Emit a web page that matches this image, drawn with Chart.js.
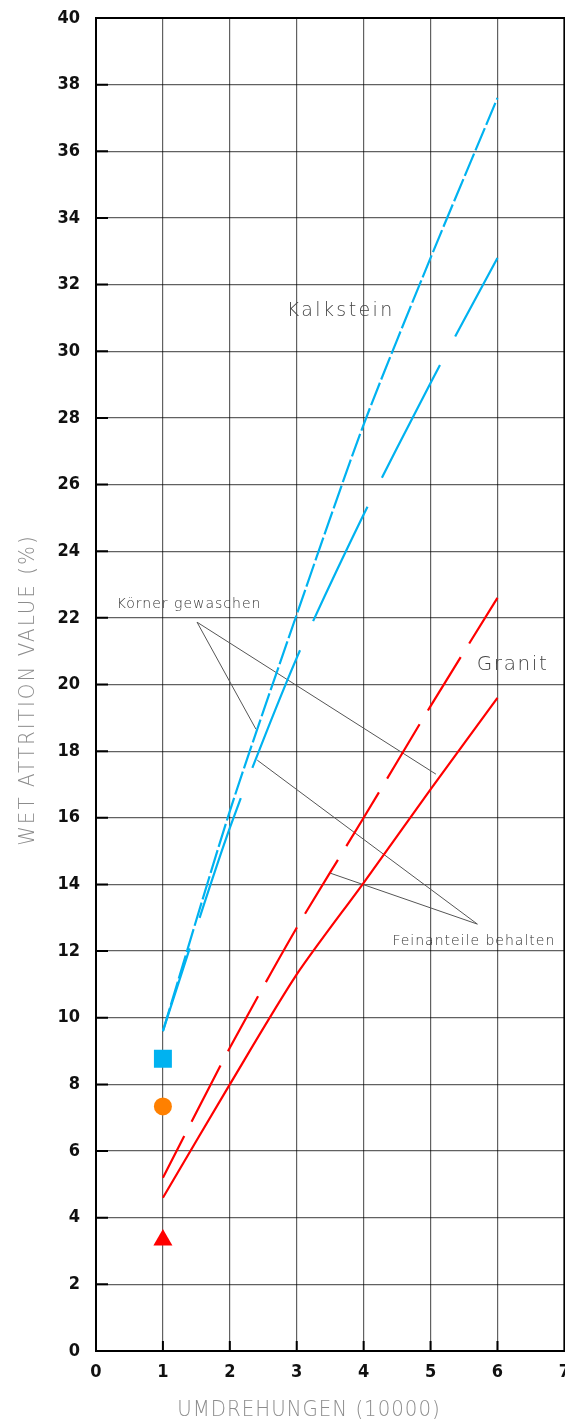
<!DOCTYPE html>
<html lang="de">
<head>
<meta charset="utf-8">
<title>Wet Attrition Value</title>
<script src="https://cdn.jsdelivr.net/npm/chart.js@4.4.1/dist/chart.umd.min.js"></script>
<style>
    html, body { margin: 0; padding: 0; background: #fff; overflow: hidden; }
    #wrap { position: relative; width: 581px; height: 1423px; }
</style>
</head>
<body>
<div id="wrap"><canvas id="attritionChart"></canvas></div>
<script>
// Umdrehungen (x 10000)
const umdrehungen = [1, 2, 3, 4, 5, 6];

// Kalkstein
const kalksteinGewaschen   = [9.6, 16.2, 22.1, 27.8, 32.8, 37.6];
const kalksteinFeinanteile = [9.6, 15.7, 20.8, 25.1, 29.05, 32.8];

// Granit
const granitGewaschen   = [4.6, 8.0, 11.3, 14.05, 16.85, 19.6];
const granitFeinanteile = [5.2, 9.1, 12.7, 16.0, 19.35, 22.6];

// Einzelwerte bei 10000 Umdrehungen (blau, orange, rot)
const einzelX = [1, 1, 1];
const einzelY = [8.77, 7.34, 3.33];

// Achsenteilung
const xTickWerte = [0, 1, 2, 3, 4, 5, 6, 7];
const yTickWerte = [0, 2, 4, 6, 8, 10, 12, 14, 16, 18, 20, 22, 24, 26, 28, 30, 32, 34, 36, 38, 40];

// Beschriftungen im Diagramm (Achsenwerte, linker Rand / Mitte)
const notizTexte = ['Kalkstein', 'Granit', 'Körner gewaschen', 'Feinanteile behalten'];
const notizX = [2.85, 5.69, 0.31, 4.43];
const notizY = [31.2, 20.6, 22.4, 12.3];

// Hinweislinien: von -> nach
const hinweisVonX  = [1.51, 1.51, 5.70, 5.70];
const hinweisVonY  = [21.87, 21.87, 12.81, 12.81];
const hinweisNachX = [5.08, 2.39, 2.41, 3.50];
const hinweisNachY = [17.31, 18.66, 17.73, 14.34];

const BLAU = '#00b2f0';
const ROT = '#ff0000';
const ORANGE = '#ff8000';

function punkte(werte) {
    return umdrehungen.map((u, i) => ({ x: u, y: werte[i] }));
}

// Text mit Sperrung und leichter Stauchung zeichnen
function schreibe(ctx, text, x, y, o) {
    ctx.save();
    ctx.translate(x, y);
    if (o.rotate) ctx.rotate(o.rotate);
    ctx.scale(o.squeeze || 1, 1);
    ctx.font = `${o.weight || 200} ${o.size}px "DejaVu Sans"`;
    ctx.letterSpacing = (o.spacing || 0) + 'px';
    ctx.fillStyle = o.color;
    ctx.textAlign = o.align || 'left';
    ctx.textBaseline = 'middle';
    ctx.fillText(text, 0, 0);
    ctx.restore();
}

const notizStil = [
    { size: 19, spacing: 2.4, color: '#444' },
    { size: 20, spacing: 1.6, color: '#444' },
    { size: 14, spacing: 1.0, color: '#333' },
    { size: 14, spacing: 1.0, color: '#333' }
];

const zeichnung = {
    id: 'zeichnung',
    beforeDatasetsDraw(chart) {
        const { ctx, scales: { x, y } } = chart;
        ctx.save();
        ctx.strokeStyle = '#555';
        ctx.lineWidth = 1;
        hinweisVonX.forEach((vx, i) => {
            ctx.beginPath();
            ctx.moveTo(x.getPixelForValue(vx), y.getPixelForValue(hinweisVonY[i]));
            ctx.lineTo(x.getPixelForValue(hinweisNachX[i]), y.getPixelForValue(hinweisNachY[i]));
            ctx.stroke();
        });
        ctx.restore();
    },
    afterDraw(chart) {
        const { ctx, chartArea: a, scales: { x, y } } = chart;
        ctx.save();
        // Innenliegende Teilstriche
        ctx.strokeStyle = '#000';
        ctx.lineWidth = 2;
        ctx.beginPath();
        y.ticks.forEach(t => {
            if (t.value <= 0 || t.value >= 40) return;
            const py = y.getPixelForValue(t.value);
            ctx.moveTo(a.left, py);
            ctx.lineTo(a.left + 12, py);
        });
        x.ticks.forEach(t => {
            if (t.value <= 0 || t.value >= 7) return;
            const px = x.getPixelForValue(t.value);
            ctx.moveTo(px, a.bottom);
            ctx.lineTo(px, a.bottom - 10);
        });
        ctx.stroke();
        // Rahmen
        ctx.strokeRect(a.left, a.top, a.right - a.left, a.bottom - a.top);
        ctx.restore();

        notizTexte.forEach((txt, i) => {
            schreibe(ctx, txt, x.getPixelForValue(notizX[i]), y.getPixelForValue(notizY[i]), notizStil[i]);
        });

        // Achsentitel
        schreibe(ctx, 'UMDREHUNGEN (10000)', 309, 1410, { size: 22, spacing: 1.1, squeeze: 0.9, color: '#8c8c8c', align: 'center' });
        schreibe(ctx, 'WET ATTRITION VALUE (%)', 28, 690, { size: 22, spacing: 2.3, squeeze: 0.9, color: '#8c8c8c', align: 'center', rotate: -Math.PI / 2 });
    }
};

const tickFont = { family: '"DejaVu Sans Condensed"', size: 18, weight: 'bold' };
const gitter = { color: 'rgba(0,0,0,0.62)', lineWidth: 1.2, drawTicks: false };

new Chart(document.getElementById('attritionChart'), {
    type: 'line',
    data: {
        datasets: [
            { data: punkte(kalksteinGewaschen), borderColor: BLAU, borderWidth: 2.2, borderDash: [24, 3.5] },
            { data: punkte(kalksteinFeinanteile), borderColor: BLAU, borderWidth: 2.2, borderDash: [127, 32], borderDashOffset: 40 },
            { data: punkte(granitGewaschen), borderColor: ROT, borderWidth: 2.2 },
            { data: punkte(granitFeinanteile), borderColor: ROT, borderWidth: 2.2, borderDash: [63, 16], borderDashOffset: 16 },
            { data: [{ x: einzelX[0], y: einzelY[0] }], showLine: false, pointStyle: 'rect', pointRadius: 12.7, backgroundColor: BLAU, borderWidth: 0 },
            { data: [{ x: einzelX[1], y: einzelY[1] }], showLine: false, pointStyle: 'circle', pointRadius: 9, backgroundColor: ORANGE, borderWidth: 0 },
            { data: [{ x: einzelX[2], y: einzelY[2] }], showLine: false, pointStyle: 'triangle', pointRadius: 11, backgroundColor: ROT, borderWidth: 0 }
        ]
    },
    options: {
        responsive: true,
        maintainAspectRatio: false,
        animation: false,
        layout: { padding: { top: 18, right: 0, left: 0, bottom: 0 } },
        elements: {
            line: { tension: 0.25, fill: false },
            point: { radius: 0, hoverRadius: 0 }
        },
        plugins: { legend: { display: false }, tooltip: { enabled: false } },
        scales: {
            x: {
                type: 'linear',
                min: 0,
                max: 7,
                afterBuildTicks: s => { s.ticks = xTickWerte.map(v => ({ value: v })); },
                afterFit: s => { s.height = 72; },
                grid: gitter,
                border: { display: true, color: '#000', width: 2 },
                ticks: { font: tickFont, color: '#111', padding: 11, maxRotation: 0 }
            },
            y: {
                min: 0,
                max: 40,
                afterBuildTicks: s => { s.ticks = yTickWerte.map(v => ({ value: v })); },
                afterFit: s => { s.width = 96; s.paddingTop = 0; s.paddingBottom = 0; },
                grid: gitter,
                border: { display: true, color: '#000', width: 2 },
                ticks: { font: tickFont, color: '#111', padding: 16 }
            }
        }
    },
    plugins: [zeichnung]
});
</script>
</body>
</html>
